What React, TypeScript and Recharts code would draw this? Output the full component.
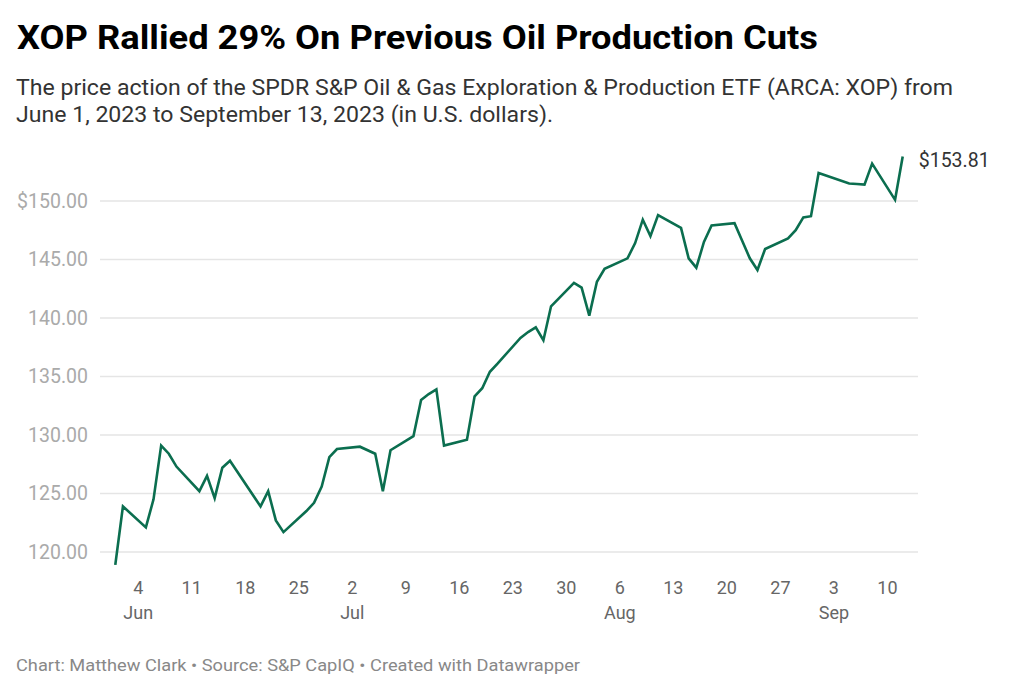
import { LineChart, Line, XAxis, YAxis, ReferenceLine } from 'recharts';

const dates = [
  '2023-06-01', '2023-06-02', '2023-06-05', '2023-06-06', '2023-06-07', '2023-06-08', '2023-06-09',
  '2023-06-12', '2023-06-13', '2023-06-14', '2023-06-15', '2023-06-16', '2023-06-20', '2023-06-21',
  '2023-06-22', '2023-06-23', '2023-06-26', '2023-06-27', '2023-06-28', '2023-06-29', '2023-06-30',
  '2023-07-03', '2023-07-05', '2023-07-06', '2023-07-07', '2023-07-10', '2023-07-11', '2023-07-12',
  '2023-07-13', '2023-07-14', '2023-07-17', '2023-07-18', '2023-07-19', '2023-07-20', '2023-07-21',
  '2023-07-24', '2023-07-25', '2023-07-26', '2023-07-27', '2023-07-28', '2023-07-31', '2023-08-01',
  '2023-08-02', '2023-08-03', '2023-08-04', '2023-08-07', '2023-08-08', '2023-08-09', '2023-08-10',
  '2023-08-11', '2023-08-14', '2023-08-15', '2023-08-16', '2023-08-17', '2023-08-18', '2023-08-21',
  '2023-08-22', '2023-08-23', '2023-08-24', '2023-08-25', '2023-08-28', '2023-08-29', '2023-08-30',
  '2023-08-31', '2023-09-01', '2023-09-05', '2023-09-06', '2023-09-07', '2023-09-08', '2023-09-11',
  '2023-09-12',
];

const prices = [
  118.9, 123.9, 122.1, 124.5, 129.1, 128.4, 127.3,
  125.2, 126.5, 124.6, 127.2, 127.8, 123.9, 125.2,
  122.7, 121.7, 123.5, 124.2, 125.6, 128.1, 128.8,
  129.0, 128.4, 125.2, 128.7, 129.9, 133.0, 133.5,
  133.9, 129.1, 129.6, 133.3, 134.0, 135.4, 136.1,
  138.3, 138.8, 139.2, 138.1, 141.0, 143.0, 142.6,
  140.2, 143.1, 144.2, 145.1, 146.4, 148.4, 147.0,
  148.8, 147.7, 145.1, 144.3, 146.5, 147.9, 148.1,
  146.6, 145.1, 144.1, 145.9, 146.8, 147.5, 148.6,
  148.7, 152.4, 151.5, 151.45, 151.4, 153.2, 150.1,
  153.81,
];

const yTicks = [120, 125, 130, 135, 140, 145, 150];
const xTickDates = [
  '2023-06-04', '2023-06-11', '2023-06-18', '2023-06-25', '2023-07-02', '2023-07-09', '2023-07-16',
  '2023-07-23', '2023-07-30', '2023-08-06', '2023-08-13', '2023-08-20', '2023-08-27', '2023-09-03',
  '2023-09-10',
];
const monthLabels: Record<string, string> = {
  '2023-06-04': 'Jun',
  '2023-07-02': 'Jul',
  '2023-08-06': 'Aug',
  '2023-09-03': 'Sep',
};

const START = Date.UTC(2023, 5, 1);
const toDay = (s: string) => {
  const [y, m, d] = s.split('-').map(Number);
  return (Date.UTC(y, m - 1, d) - START) / 86400000;
};

const chartData = dates.map((d, i) => ({ day: toDay(d), price: prices[i] }));
const xTicks = xTickDates.map(toDay);
const dayToLabel: Record<number, string> = {};
xTickDates.forEach((d) => {
  dayToLabel[toDay(d)] = d;
});

const FONT = 'Roboto, sans-serif';

const XTick = (props: any) => {
  const { x, y, payload } = props;
  const iso = dayToLabel[payload.value];
  const dayNum = Number(iso.split('-')[2]);
  const month = monthLabels[iso];
  return (
    <g>
      <text x={x} y={y + 17} textAnchor="middle" fill="#666" fontSize={18} fontFamily={FONT}>
        {dayNum}
      </text>
      {month && (
        <text x={x} y={y + 42} textAnchor="middle" fill="#666" fontSize={18} fontFamily={FONT}>
          {month}
        </text>
      )}
    </g>
  );
};

const YTick = (props: any) => {
  const { x, y, payload } = props;
  const v = payload.value as number;
  const label = (v === 150 ? '$' : '') + v.toFixed(2);
  return (
    <text x={x} y={y + 6.5} textAnchor="end" fill="#aaa" fontSize={19.5} fontFamily={FONT}>
      {label}
    </text>
  );
};

const lastIndex = chartData.length - 1;
const EndLabel = (props: any) => {
  const { x, y, index, value } = props;
  if (index !== lastIndex) return null;
  return (
    <text x={x + 16} y={y + 10.5} fill="#333" fontSize={19.5} fontFamily={FONT}>
      ${Number(value).toFixed(2)}
    </text>
  );
};

export default function App() {
  return (
    <div style={{ position: 'absolute', left: 0, top: 0, width: 1024, height: 693, background: '#fff' }}>
      <svg width={1024} height={693} style={{ position: 'absolute', left: 0, top: 0 }}>
        <text x={17} y={48.5} fontFamily={FONT} fontWeight={700} fontSize={33} fill="#000"
          textLength={801} lengthAdjust="spacingAndGlyphs">
          XOP Rallied 29% On Previous Oil Production Cuts
        </text>
        <text x={16} y={95.3} fontFamily={FONT} fontSize={22} fill="#333"
          textLength={937} lengthAdjust="spacingAndGlyphs">
          The price action of the SPDR S&amp;P Oil &amp; Gas Exploration &amp; Production ETF (ARCA: XOP) from
        </text>
        <text x={16} y={121.5} fontFamily={FONT} fontSize={22} fill="#333"
          textLength={537} lengthAdjust="spacingAndGlyphs">
          June 1, 2023 to September 13, 2023 (in U.S. dollars).
        </text>
        <text x={16} y={670.5} fontFamily={FONT} fontSize={17} fill="#888"
          textLength={564} lengthAdjust="spacingAndGlyphs">
          Chart: Matthew Clark • Source: S&amp;P CapIQ • Created with Datawrapper
        </text>
      </svg>
      <div style={{ position: 'absolute', left: 0, top: 0 }}>
        <LineChart
          width={1024}
          height={693}
          data={chartData}
          margin={{ top: 130.8, right: 106, bottom: 87.6, left: 0 }}
        >
          <XAxis
            dataKey="day"
            type="number"
            domain={[-2, 105]}
            ticks={xTicks}
            axisLine={false}
            tickLine={false}
            tickSize={0}
            tick={<XTick />}
            height={30}
            interval={0}
          />
          <YAxis
            type="number"
            domain={[118, 156]}
            ticks={yTicks}
            axisLine={false}
            tickLine={false}
            tickSize={0}
            tickMargin={12}
            tick={<YTick />}
            width={100}
            interval={0}
          />
          {yTicks.map((t) => (
            <ReferenceLine key={t} y={t} stroke="#e5e5e5" strokeWidth={1.5} />
          ))}
          <Line
            type="linear"
            dataKey="price"
            stroke="#0b6e4f"
            strokeWidth={2.6}
            dot={false}
            isAnimationActive={false}
            label={<EndLabel />}
          />
        </LineChart>
      </div>
    </div>
  );
}
